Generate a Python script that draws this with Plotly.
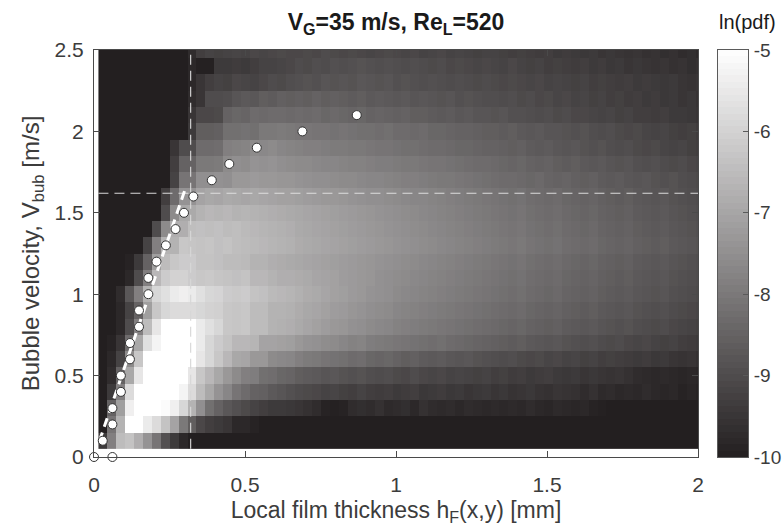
import plotly.graph_objects as go

# ---------------------------------------------------------------------------
# Joint pdf of local film thickness and bubble velocity, ln(pdf)
# ---------------------------------------------------------------------------
h_bin = 0.0295                      # film-thickness bin width [mm]
n_h = 68
h_centers = [round(h_bin * (i + 1), 4) for i in range(n_h)]
v_centers = [round(0.1 * (j + 1), 1) for j in range(25)]   # [m/s]

# one row per velocity bin (0.1 ... 2.5 m/s), 68 thickness bins each
ln_pdf = [
    # V = 0.1
    [-9.4, -7.85, -6.5, -6.35, -6.8, -7.4, -8.1, -8.9, -9.4, -9.8, -10, -10, -10, -10, -10, -10, -10, -10, -10, -10, -10, -10,
     -10, -10, -10, -10, -10, -10, -10, -10, -10, -10, -10, -10, -10, -10, -10, -10, -10, -10, -10, -10, -10, -10,
     -10, -10, -10, -10, -10, -10, -10, -10, -10, -10, -10, -10, -10, -10, -10, -10, -10, -10, -10, -10, -10, -10, -10, -10],
    # V = 0.2
    [-10, -8.1, -6.7, -5.0, -5.0, -5.45, -5.8, -6.35, -7.05, -8.0, -8.6, -9.1, -9.3, -9.4, -9.5, -9.8, -9.8, -9.9, -10, -10, -10, -10,
     -10, -10, -10, -10, -10, -10, -10, -10, -10, -10, -10, -10, -10, -10, -10, -10, -10, -10, -10, -10, -10, -10,
     -10, -10, -10, -10, -10, -10, -10, -10, -10, -10, -10, -10, -10, -10, -10, -10, -10, -10, -10, -10, -10, -10, -10, -10],
    # V = 0.3
    [-10, -8.5, -7.15, -5.35, -5.0, -4.9, -5.0, -5.1, -5.35, -5.9, -6.7, -7.5, -8.2, -8.5, -8.75, -8.9, -9.05, -9.2, -9.3, -9.4, -9.4, -9.45,
     -9.5, -9.6, -9.7, -9.9, -9.95, -9.9, -9.7, -9.65, -9.7, -9.6, -9.75, -9.7, -9.65, -9.8, -9.6, -9.7, -9.75, -9.7, -9.8, -9.7, -9.75, -9.8,
     -9.75, -9.8, -9.75, -9.8, -9.7, -9.8, -9.85, -9.75, -9.8, -9.85, -9.8, -9.9, -9.95, -10, -10, -10, -10, -10, -10, -10, -10, -10, -10, -10],
    # V = 0.4
    [-10, -9.4, -7.85, -5.8, -5.0, -4.9, -4.8, -4.9, -5.0, -5.25, -5.8, -6.5, -6.95, -7.4, -7.7, -8.1, -8.3, -8.5, -8.55, -8.7, -8.8, -8.9,
     -9.0, -9.05, -9.1, -9.2, -9.15, -9.25, -9.3, -9.2, -9.3, -9.35, -9.3, -9.4, -9.35, -9.3, -9.45, -9.4, -9.35, -9.45, -9.4, -9.5, -9.45, -9.4,
     -9.5, -9.45, -9.55, -9.5, -9.45, -9.55, -9.6, -9.5, -9.55, -9.6, -9.7, -9.6, -9.75, -9.7, -9.8, -9.75, -9.8, -9.7, -9.8, -9.85, -9.8, -9.9, -9.85, -9.9],
    # V = 0.5
    [-10, -9.7, -8.5, -6.95, -5.55, -4.9, -4.8, -4.8, -4.9, -5.0, -5.55, -6.25, -6.6, -6.95, -7.3, -7.6, -7.85, -7.9, -8.2, -8.25, -8.4, -8.45,
     -8.6, -8.65, -8.7, -8.8, -8.75, -8.85, -8.9, -8.85, -8.95, -9.0, -8.95, -9.05, -9.1, -9.0, -9.1, -9.15, -9.1, -9.2, -9.15, -9.2, -9.25, -9.2,
     -9.3, -9.25, -9.35, -9.3, -9.4, -9.35, -9.3, -9.4, -9.45, -9.4, -9.5, -9.45, -9.5, -9.55, -9.5, -9.6, -9.7, -9.75, -9.8, -9.75, -9.8, -9.85, -9.8, -9.85],
    # V = 0.6
    [-10, -9.8, -9.2, -7.6, -6.25, -5.0, -4.9, -4.8, -4.8, -4.9, -5.0, -5.55, -5.9, -6.25, -6.6, -6.95, -7.0, -7.3, -7.3, -7.6, -7.65, -7.7,
     -7.85, -7.95, -8.0, -8.1, -8.15, -8.2, -8.3, -8.25, -8.4, -8.45, -8.4, -8.5, -8.6, -8.55, -8.65, -8.7, -8.65, -8.75, -8.8, -8.75, -8.85, -8.9,
     -8.95, -9.0, -8.95, -9.05, -9.1, -9.05, -9.15, -9.1, -9.2, -9.15, -9.25, -9.2, -9.3, -9.25, -9.3, -9.35, -9.4, -9.35, -9.45, -9.4, -9.5, -9.55, -9.5, -9.6],
    # V = 0.7
    [-10, -9.9, -9.5, -8.3, -6.95, -5.7, -5.25, -5.0, -4.9, -4.9, -5.0, -5.45, -5.9, -6.15, -6.35, -6.6, -6.6, -6.65, -7.05, -7.05, -7.1, -7.15,
     -7.3, -7.4, -7.45, -7.55, -7.6, -7.7, -7.8, -7.75, -7.9, -7.95, -8.0, -8.05, -8.1, -8.15, -8.2, -8.25, -8.2, -8.3, -8.35, -8.4, -8.45, -8.5,
     -8.55, -8.6, -8.65, -8.6, -8.7, -8.75, -8.8, -8.75, -8.85, -8.9, -8.95, -8.9, -9.0, -9.05, -9.0, -9.1, -9.15, -9.1, -9.2, -9.25, -9.2, -9.3, -9.35, -9.4],
    # V = 0.8
    [-10, -10, -9.8, -9.0, -7.85, -6.5, -5.55, -5.0, -4.9, -4.9, -5.0, -5.45, -5.7, -5.9, -6.25, -6.3, -6.25, -6.5, -6.5, -6.7, -6.75, -6.8,
     -6.9, -7.0, -7.1, -7.2, -7.3, -7.35, -7.45, -7.5, -7.6, -7.65, -7.7, -7.8, -7.85, -7.9, -7.95, -8.0, -8.05, -8.1, -8.15, -8.2, -8.25, -8.3,
     -8.35, -8.4, -8.45, -8.4, -8.5, -8.55, -8.6, -8.55, -8.65, -8.7, -8.75, -8.7, -8.8, -8.85, -8.9, -8.85, -8.95, -9.0, -9.05, -9.0, -9.1, -9.15, -9.2, -9.25],
    # V = 0.9
    [-10, -10, -9.8, -9.2, -8.5, -7.15, -6.25, -5.9, -5.8, -5.8, -5.8, -5.9, -6.0, -6.05, -6.25, -6.3, -6.25, -6.5, -6.5, -6.7, -6.7, -6.75,
     -6.85, -6.95, -7.0, -7.1, -7.2, -7.25, -7.35, -7.4, -7.5, -7.55, -7.6, -7.7, -7.75, -7.8, -7.85, -7.9, -7.95, -8.0, -8.05, -8.1, -8.15, -8.2,
     -8.25, -8.3, -8.35, -8.3, -8.4, -8.45, -8.5, -8.45, -8.55, -8.6, -8.65, -8.6, -8.7, -8.75, -8.8, -8.75, -8.85, -8.9, -8.95, -8.9, -9.0, -9.05, -9.1, -9.15],
    # V = 1.0
    [-10, -10, -9.7, -8.75, -7.85, -6.7, -5.9, -5.7, -5.45, -5.35, -5.45, -5.7, -5.9, -5.95, -6.15, -6.2, -6.15, -6.35, -6.4, -6.55, -6.6, -6.65,
     -6.75, -6.85, -6.9, -7.0, -7.1, -7.15, -7.25, -7.3, -7.4, -7.45, -7.5, -7.6, -7.65, -7.7, -7.75, -7.8, -7.85, -7.9, -7.95, -8.0, -8.05, -8.1,
     -8.15, -8.2, -8.25, -8.2, -8.3, -8.35, -8.4, -8.35, -8.45, -8.5, -8.55, -8.5, -8.6, -8.65, -8.7, -8.65, -8.75, -8.8, -8.85, -8.8, -8.9, -8.95, -9.0, -9.05],
    # V = 1.1
    [-10, -10, -10, -9.8, -9.0, -7.85, -6.6, -6.15, -6.0, -6.0, -6.15, -6.25, -6.2, -6.3, -6.35, -6.4, -6.35, -6.6, -6.6, -6.7, -6.8, -6.8,
     -6.85, -6.9, -7.0, -7.05, -7.1, -7.2, -7.25, -7.3, -7.35, -7.45, -7.5, -7.55, -7.6, -7.65, -7.7, -7.75, -7.8, -7.85, -7.9, -7.95, -8.0, -8.05,
     -8.1, -8.15, -8.2, -8.15, -8.25, -8.3, -8.35, -8.3, -8.4, -8.45, -8.5, -8.45, -8.55, -8.6, -8.65, -8.6, -8.7, -8.75, -8.8, -8.75, -8.85, -8.9, -8.95, -9.0],
    # V = 1.2
    [-10, -10, -10, -9.9, -9.4, -8.5, -7.15, -6.5, -6.25, -6.15, -6.15, -6.35, -6.35, -6.4, -6.5, -6.5, -6.55, -6.7, -6.7, -6.8, -6.85, -6.9,
     -6.95, -7.0, -7.05, -7.1, -7.15, -7.2, -7.25, -7.3, -7.35, -7.4, -7.45, -7.5, -7.55, -7.6, -7.65, -7.7, -7.75, -7.8, -7.85, -7.9, -7.95, -8.0,
     -8.05, -8.1, -8.15, -8.1, -8.2, -8.25, -8.3, -8.25, -8.35, -8.4, -8.45, -8.4, -8.5, -8.55, -8.6, -8.55, -8.65, -8.7, -8.75, -8.7, -8.8, -8.85, -8.9, -8.95],
    # V = 1.3
    [-10, -10, -10, -10, -10, -9.2, -7.85, -6.7, -6.7, -6.25, -6.3, -6.35, -6.3, -6.4, -6.35, -6.45, -6.5, -6.55, -6.6, -6.65, -6.7, -6.75,
     -6.85, -6.9, -6.95, -7.0, -7.05, -7.1, -7.15, -7.2, -7.25, -7.3, -7.35, -7.4, -7.45, -7.5, -7.55, -7.6, -7.65, -7.7, -7.75, -7.8, -7.85, -7.9,
     -7.95, -8.0, -8.05, -8.0, -8.1, -8.15, -8.2, -8.15, -8.25, -8.3, -8.35, -8.3, -8.4, -8.45, -8.5, -8.45, -8.55, -8.6, -8.65, -8.6, -8.7, -8.75, -8.8, -8.85],
    # V = 1.4
    [-10, -10, -10, -10, -10, -10, -9.0, -7.6, -6.8, -6.8, -6.45, -6.4, -6.45, -6.4, -6.5, -6.45, -6.55, -6.6, -6.65, -6.7, -6.75, -6.8,
     -6.9, -6.95, -7.0, -7.05, -7.1, -7.15, -7.2, -7.25, -7.3, -7.35, -7.4, -7.45, -7.5, -7.55, -7.6, -7.65, -7.7, -7.75, -7.8, -7.85, -7.9, -7.95,
     -8.0, -8.05, -8.1, -8.05, -8.15, -8.2, -8.25, -8.2, -8.3, -8.35, -8.4, -8.35, -8.45, -8.5, -8.55, -8.5, -8.6, -8.65, -8.7, -8.65, -8.75, -8.8, -8.85, -8.9],
    # V = 1.5
    [-10, -10, -10, -10, -10, -10, -10, -9.0, -7.6, -6.95, -6.9, -6.7, -6.6, -6.65, -6.6, -6.7, -6.65, -6.7, -6.75, -6.8, -6.85, -6.9,
     -6.95, -7.0, -7.05, -7.1, -7.15, -7.2, -7.25, -7.3, -7.35, -7.4, -7.45, -7.5, -7.55, -7.6, -7.65, -7.7, -7.75, -7.8, -7.85, -7.9, -7.95, -8.0,
     -8.05, -8.1, -8.15, -8.1, -8.2, -8.25, -8.3, -8.25, -8.35, -8.4, -8.45, -8.4, -8.5, -8.55, -8.6, -8.55, -8.65, -8.7, -8.75, -8.7, -8.8, -8.85, -8.9, -8.95],
    # V = 1.6
    [-10, -10, -10, -10, -10, -10, -10, -9.3, -8.3, -7.4, -7.4, -7.05, -6.95, -7.0, -6.9, -6.95, -7.0, -6.95, -7.0, -7.05, -7.1, -7.1,
     -7.15, -7.2, -7.25, -7.3, -7.3, -7.35, -7.4, -7.45, -7.5, -7.5, -7.55, -7.6, -7.65, -7.7, -7.7, -7.75, -7.8, -7.85, -7.9, -7.95, -8.0, -8.05,
     -8.1, -8.15, -8.2, -8.15, -8.25, -8.3, -8.35, -8.3, -8.4, -8.45, -8.5, -8.45, -8.55, -8.6, -8.65, -8.6, -8.7, -8.75, -8.8, -8.75, -8.85, -8.9, -8.95, -9.0],
    # V = 1.7
    [-10, -10, -10, -10, -10, -10, -10, -10, -9.2, -8.1, -8.1, -7.5, -7.5, -7.45, -7.5, -7.3, -7.3, -7.25, -7.3, -7.3, -7.35, -7.35,
     -7.4, -7.45, -7.5, -7.5, -7.55, -7.6, -7.6, -7.65, -7.7, -7.7, -7.75, -7.8, -7.85, -7.85, -7.9, -7.95, -8.0, -8.0, -8.05, -8.1, -8.15, -8.2,
     -8.25, -8.3, -8.3, -8.35, -8.4, -8.35, -8.45, -8.5, -8.45, -8.55, -8.6, -8.55, -8.65, -8.7, -8.65, -8.75, -8.8, -8.75, -8.85, -8.9, -8.85, -8.95, -9.0, -9.05],
    # V = 1.8
    [-10, -10, -10, -10, -10, -10, -10, -10, -9.3, -8.5, -8.5, -8.0, -8.0, -7.95, -7.6, -7.5, -7.55, -7.4, -7.45, -7.4, -7.5, -7.55,
     -7.6, -7.6, -7.65, -7.7, -7.7, -7.75, -7.8, -7.8, -7.85, -7.9, -7.9, -7.95, -8.0, -8.0, -8.05, -8.1, -8.1, -8.15, -8.2, -8.25, -8.3, -8.3,
     -8.35, -8.4, -8.45, -8.4, -8.5, -8.55, -8.5, -8.6, -8.65, -8.6, -8.7, -8.75, -8.7, -8.8, -8.85, -8.8, -8.9, -8.95, -8.9, -9.0, -9.05, -9.0, -9.1, -9.15],
    # V = 1.9
    [-10, -10, -10, -10, -10, -10, -10, -10, -9.5, -9.0, -9.0, -8.3, -8.3, -8.25, -7.85, -7.8, -7.75, -7.6, -7.65, -7.6, -7.7, -7.75,
     -7.8, -7.85, -7.85, -7.9, -7.95, -7.95, -8.0, -8.0, -8.05, -8.1, -8.1, -8.15, -8.2, -8.2, -8.25, -8.3, -8.3, -8.35, -8.4, -8.4, -8.45, -8.5,
     -8.5, -8.55, -8.6, -8.55, -8.65, -8.7, -8.65, -8.75, -8.8, -8.75, -8.85, -8.9, -8.85, -8.95, -9.0, -8.95, -9.05, -9.1, -9.05, -9.15, -9.2, -9.15, -9.25, -9.3],
    # V = 2.0
    [-10, -10, -10, -10, -10, -10, -10, -10, -10, -10, -9.4, -8.6, -8.6, -8.55, -8.2, -8.2, -8.15, -8.2, -8.0, -8.0, -7.95, -8.0,
     -8.05, -8.05, -8.1, -8.1, -8.15, -8.1, -8.15, -8.2, -8.2, -8.25, -8.2, -8.3, -8.3, -8.35, -8.3, -8.4, -8.4, -8.45, -8.5, -8.5, -8.55, -8.6,
     -8.6, -8.65, -8.6, -8.7, -8.75, -8.7, -8.8, -8.8, -8.85, -8.9, -8.85, -8.95, -9.0, -8.95, -9.05, -9.1, -9.05, -9.15, -9.2, -9.15, -9.25, -9.3, -9.25, -9.35],
    # V = 2.1
    [-10, -10, -10, -10, -10, -10, -10, -10, -10, -10, -9.5, -9.1, -9.1, -9.05, -8.5, -8.4, -8.45, -8.3, -8.35, -8.3, -8.3, -8.35,
     -8.3, -8.35, -8.3, -8.4, -8.35, -8.4, -8.45, -8.4, -8.5, -8.45, -8.5, -8.55, -8.5, -8.6, -8.6, -8.65, -8.7, -8.65, -8.75, -8.7, -8.8, -8.8,
     -8.85, -8.8, -8.9, -8.9, -8.95, -9.0, -8.95, -9.05, -9.0, -9.1, -9.1, -9.15, -9.2, -9.15, -9.25, -9.2, -9.3, -9.3, -9.35, -9.3, -9.4, -9.4, -9.45, -9.5],
    # V = 2.2
    [-10, -10, -10, -10, -10, -10, -10, -10, -10, -10, -9.7, -9.5, -9.0, -9.0, -8.95, -8.8, -8.7, -8.75, -8.6, -8.65, -8.55, -8.6,
     -8.55, -8.6, -8.5, -8.6, -8.55, -8.6, -8.65, -8.6, -8.7, -8.65, -8.7, -8.75, -8.7, -8.8, -8.75, -8.8, -8.85, -8.8, -8.9, -8.85, -8.9, -8.95,
     -8.95, -9.0, -8.95, -9.05, -9.0, -9.1, -9.05, -9.15, -9.1, -9.2, -9.15, -9.25, -9.2, -9.3, -9.25, -9.35, -9.3, -9.4, -9.35, -9.45, -9.4, -9.5, -9.45, -9.55],
    # V = 2.3
    [-10, -10, -10, -10, -10, -10, -10, -10, -10, -10, -9.8, -9.5, -9.3, -9.2, -9.25, -9.1, -9.15, -9.2, -9.1, -9.0, -9.05, -8.95,
     -8.9, -8.85, -8.9, -8.8, -8.85, -8.8, -8.85, -8.75, -8.8, -8.85, -8.8, -8.9, -8.85, -8.9, -8.95, -8.9, -8.95, -9.0, -8.95, -9.0, -9.05, -9.0,
     -9.05, -9.1, -9.05, -9.1, -9.15, -9.1, -9.2, -9.15, -9.2, -9.25, -9.2, -9.3, -9.25, -9.3, -9.35, -9.3, -9.4, -9.35, -9.4, -9.45, -9.4, -9.5, -9.55, -9.5],
    # V = 2.4
    [-10, -10, -10, -10, -10, -10, -10, -10, -10, -10, -9.8, -9.95, -9.95, -9.4, -9.4, -9.35, -9.4, -9.3, -9.2, -9.2, -9.15, -9.1,
     -9.0, -9.05, -8.95, -9.0, -8.9, -8.95, -8.9, -8.85, -8.9, -8.95, -8.9, -8.95, -9.0, -8.95, -9.0, -9.05, -9.0, -9.1, -9.05, -9.1, -9.15, -9.1,
     -9.15, -9.2, -9.1, -9.2, -9.25, -9.2, -9.3, -9.25, -9.3, -9.35, -9.3, -9.4, -9.35, -9.45, -9.4, -9.5, -9.45, -9.5, -9.55, -9.5, -9.6, -9.55, -9.65, -9.6],
    # V = 2.5
    [-10, -10, -10, -10, -10, -10, -10, -10, -10, -10, -9.7, -9.3, -9.2, -9.25, -9.2, -9.15, -9.2, -9.1, -9.15, -9.1, -9.05, -9.1,
     -9.1, -9.05, -9.1, -9.0, -9.05, -9.1, -9.05, -9.1, -9.15, -9.1, -9.05, -9.1, -9.15, -9.1, -9.2, -9.15, -9.1, -9.2, -9.15, -9.2, -9.25, -9.2,
     -9.2, -9.25, -9.3, -9.25, -9.3, -9.35, -9.3, -9.4, -9.35, -9.4, -9.45, -9.4, -9.5, -9.45, -9.5, -9.55, -9.5, -9.6, -9.55, -9.65, -9.6, -9.7, -9.65, -9.75],
]

for j, row in enumerate(ln_pdf):
    if len(row) != n_h:
        raise ValueError(f"row {j} has {len(row)} values")

# Most probable film thickness for each velocity class
bub_h = [0.029, 0.061, 0.061, 0.089, 0.089, 0.119, 0.119, 0.149, 0.149, 0.18, 0.18,
         0.207, 0.238, 0.27, 0.298, 0.329, 0.39, 0.448, 0.539, 0.69, 0.87]
bub_v = [0.1, 0.2, 0.3, 0.4, 0.5, 0.6, 0.7, 0.8, 0.9, 1.0, 1.1,
         1.2, 1.3, 1.4, 1.5, 1.6, 1.7, 1.8, 1.9, 2.0, 2.1]
zero_h = [0.0, 0.061]
zero_v = [0.0, 0.0]

# Linear trend of the lower branch
fit_h = [0.018, 0.302]
fit_v = [0.098, 1.646]

# Critical thickness / velocity
h_crit = 0.32
v_crit = 1.62

x_ticks = [0, 0.5, 1, 1.5, 2]
x_ticktext = ["0", "0.5", "1", "1.5", "2"]
y_ticks = [0, 0.5, 1, 1.5, 2, 2.5]
y_ticktext = ["0", "0.5", "1", "1.5", "2", "2.5"]
cb_ticks = [-10, -9, -8, -7, -6, -5]
cb_ticktext = ["-10", "-9", "-8", "-7", "-6", "-5"]
z_min, z_max, n_levels = -10.0, -5.0, 64

FONT = "Liberation Sans, Arial, Helvetica, sans-serif"
AX_COL = "#4a4a4a"
TXT_COL = "#3c3c3c"
GRAYS = [[0, "rgb(35,31,32)"], [1, "rgb(255,255,255)"]]

# page geometry (pixels)
W, H = 784, 530
PLOT_L, PLOT_R, PLOT_T, PLOT_B = 94, 698, 50, 457
CB_L, CB_R = 718, 748
paper_w = CB_R - PLOT_L

fig = go.Figure()

fig.add_trace(go.Heatmap(
    x=h_centers, y=v_centers, z=ln_pdf,
    zmin=z_min, zmax=z_max, colorscale=GRAYS,
    showscale=False, hoverinfo="skip",
))

# reference lines
fig.add_trace(go.Scatter(
    x=[h_crit, h_crit], y=[v_centers[0] - 0.05, 2.5], mode="lines",
    line=dict(color="rgba(215,215,215,0.95)", width=1.2, dash="10px,6px"),
    hoverinfo="skip", showlegend=False))
fig.add_trace(go.Scatter(
    x=[h_centers[0] - h_bin / 2, 2.0], y=[v_crit, v_crit], mode="lines",
    line=dict(color="rgba(225,225,225,0.95)", width=1.2, dash="10px,6px"),
    hoverinfo="skip", showlegend=False))

# trend line
fig.add_trace(go.Scatter(
    x=fit_h, y=fit_v, mode="lines",
    line=dict(color="white", width=3, dash="9px,6px"),
    hoverinfo="skip", showlegend=False))

# most probable thickness markers
fig.add_trace(go.Scatter(
    x=bub_h, y=bub_v, mode="markers",
    marker=dict(size=9, color="white", line=dict(color="#333333", width=1)),
    hoverinfo="skip", showlegend=False))
fig.add_trace(go.Scatter(
    x=zero_h, y=zero_v, mode="markers", cliponaxis=False,
    marker=dict(size=9, color="white", line=dict(color="#333333", width=1)),
    hoverinfo="skip", showlegend=False))

# colour bar drawn as its own small axis (64-step gray map)
step = (z_max - z_min) / n_levels
cb_levels = [z_min + (i + 0.5) * step for i in range(n_levels)]
fig.add_trace(go.Heatmap(
    x=[0], y=cb_levels, z=[[v] for v in cb_levels],
    zmin=z_min, zmax=z_max, colorscale=GRAYS,
    showscale=False, hoverinfo="skip",
    xaxis="x2", yaxis="y2",
))

fig.update_layout(
    width=W, height=H,
    margin=dict(l=PLOT_L, r=W - CB_R, t=PLOT_T, b=H - PLOT_B, autoexpand=False),
    paper_bgcolor="white", plot_bgcolor="white",
    font=dict(family=FONT, color=TXT_COL),
    showlegend=False,
    title=dict(
        text="<b>V<sub>G</sub>=35 m/s, Re<sub>L</sub>=520</b>",
        x=(PLOT_L + PLOT_R) / 2 / W, xanchor="center", xref="container",
        y=1 - 22 / H, yanchor="middle", yref="container",
        font=dict(family=FONT, size=23, color="#1a1a1a"),
    ),
    xaxis=dict(
        domain=[0, (PLOT_R - PLOT_L) / paper_w], automargin=False,
        range=[0, 2], tickvals=x_ticks, ticktext=x_ticktext,
        ticks="inside", ticklen=6, tickcolor=AX_COL, tickwidth=1,
        showline=True, linecolor=AX_COL, linewidth=1, mirror="allticks",
        showgrid=False, zeroline=False, ticklabelstandoff=9,
        tickfont=dict(family=FONT, size=21, color=TXT_COL),
        title=dict(text="Local film thickness h<sub>F</sub>(x,y) [mm]",
                   font=dict(family=FONT, size=23, color=TXT_COL), standoff=6),
    ),
    yaxis=dict(
        automargin=False,
        range=[0, 2.5], tickvals=y_ticks, ticktext=y_ticktext,
        ticks="inside", ticklen=6, tickcolor=AX_COL, tickwidth=1,
        showline=True, linecolor=AX_COL, linewidth=1, mirror="allticks",
        showgrid=False, zeroline=False, ticklabelstandoff=5,
        tickfont=dict(family=FONT, size=21, color=TXT_COL),
        title=dict(text="Bubble velocity, V<sub>bub</sub> [m/s]",
                   font=dict(family=FONT, size=24, color=TXT_COL), standoff=8),
    ),
    xaxis2=dict(
        domain=[(CB_L - PLOT_L) / paper_w, 1], anchor="y2", automargin=False,
        range=[-0.5, 0.5], showticklabels=False, ticks="",
        showline=True, linecolor="#5a5a5a", linewidth=1, mirror=True,
        showgrid=False, zeroline=False, fixedrange=True,
    ),
    yaxis2=dict(
        domain=[0, 1], anchor="x2", side="right", automargin=False,
        range=[z_min, z_max], tickvals=cb_ticks, ticktext=cb_ticktext,
        ticks="inside", ticklen=5, tickcolor="#5a5a5a",
        showline=True, linecolor="#5a5a5a", linewidth=1, mirror=True,
        showgrid=False, zeroline=False, fixedrange=True, ticklabelstandoff=1,
        tickfont=dict(family=FONT, size=19, color=TXT_COL),
    ),
    annotations=[dict(
        text="ln(pdf)", xref="paper", yref="paper",
        x=(747 - PLOT_L) / paper_w, y=1 + (PLOT_T - 22) / (PLOT_B - PLOT_T),
        xanchor="center", yanchor="middle", showarrow=False,
        font=dict(family=FONT, size=20, color="#1a1a1a"),
    )],
)

fig.write_html("out.html")
